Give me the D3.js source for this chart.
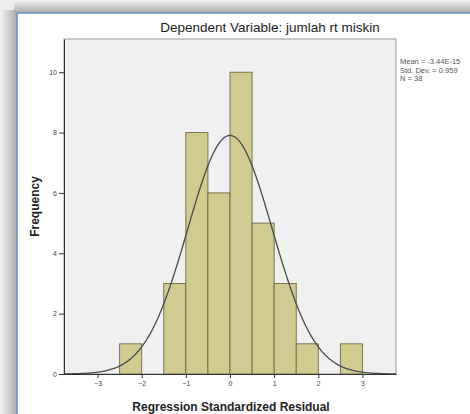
<!DOCTYPE html>
<html>
<head>
<meta charset="utf-8">
<style>
body{margin:0;background:#fff;}
svg{display:block;font-family:"Liberation Sans",Arial,sans-serif;}
</style>
</head>
<body>
<svg id="svg"></svg>
<script src="https://cdnjs.cloudflare.com/ajax/libs/d3/7.8.5/d3.min.js"></script>
<script>
// histogram bins (lower edge) and counts, bin width 0.5
var binStarts = [-2.5, -2, -1.5, -1, -0.5, 0, 0.5, 1, 1.5, 2, 2.5]
var counts    = [1, 0, 3, 8, 6, 10, 5, 3, 1, 0, 1]
var xTicks = [-3, -2, -1, 0, 1, 2, 3]
var yTicks = [0, 2, 4, 6, 8, 10]
var stats = ["Mean = -3.44E-15", "Std. Dev. = 0.959", "N = 38"]
var mean = 0, sd = 0.959, n = 38, binW = 0.5

var W = 470, H = 414
var plot = {left: 64, right: 396, top: 39, bottom: 374}

var svg = d3.select('#svg').attr('width', W).attr('height', H)
var defs = svg.append('defs')
var gl = defs.append('linearGradient').attr('id','shL').attr('x1',0).attr('x2',1).attr('y1',0).attr('y2',0)
gl.append('stop').attr('offset',0).attr('stop-color','#f4f4f4')
gl.append('stop').attr('offset',1).attr('stop-color','#a9a9a9')
var gt = defs.append('linearGradient').attr('id','shT').attr('x1',0).attr('x2',0).attr('y1',0).attr('y2',1)
gt.append('stop').attr('offset',0).attr('stop-color','#f4f4f4')
gt.append('stop').attr('offset',1).attr('stop-color','#a9a9a9')

// window shadow + blue frame
svg.append('rect').attr('x',0).attr('y',0).attr('width',W).attr('height',H).attr('fill','#ececec')
svg.append('rect').attr('x',0).attr('y',10).attr('width',17).attr('height',H).attr('fill','url(#shL)')
svg.append('rect').attr('x',14).attr('y',0).attr('width',W).attr('height',13).attr('fill','url(#shT)')
svg.append('rect').attr('x',17).attr('y',13).attr('width',W).attr('height',H).attr('fill','#fff')
svg.append('line').attr('x1',17).attr('x2',17).attr('y1',13).attr('y2',H).attr('stroke','#6a8fc8').attr('stroke-width',1.5)
svg.append('line').attr('x1',17).attr('x2',W).attr('y1',13).attr('y2',13).attr('stroke','#6a8fc8').attr('stroke-width',1.5)

var x = d3.scaleLinear().domain([-3.76, 3.76]).range([plot.left, plot.right])
var y = d3.scaleLinear().domain([0, 11.1]).range([plot.bottom, plot.top])

svg.append('rect').attr('x',plot.left).attr('y',plot.top)
  .attr('width',plot.right-plot.left).attr('height',plot.bottom-plot.top)
  .attr('fill','#f0f0f0').attr('stroke','#9a9a9a').attr('stroke-width',1)

binStarts.forEach(function(b,i){
  if (counts[i] === 0) return
  svg.append('rect').attr('class','bar')
    .attr('x', x(b)).attr('width', x(b+binW)-x(b))
    .attr('y', y(counts[i])).attr('height', y(0)-y(counts[i]))
    .attr('fill','#d2cb90').attr('stroke','#6e6844').attr('stroke-width',0.9)
})

// normal curve
var pts = d3.range(-3.76, 3.761, 0.02).map(function(v){
  var p = Math.exp(-0.5*Math.pow((v-mean)/sd,2))/(sd*Math.sqrt(2*Math.PI))
  return [v, n*binW*p]
})
svg.append('path').datum(pts)
  .attr('d', d3.line().x(function(d){return x(d[0])}).y(function(d){return y(d[1])}))
  .attr('fill','none').attr('stroke','#4a4a4a').attr('stroke-width',1.3)

var xAxis = svg.append('g').attr('transform','translate(0,'+plot.bottom+')')
  .call(d3.axisBottom(x).tickValues(xTicks).tickSize(4).tickSizeOuter(0).tickPadding(3))
var yAxis = svg.append('g').attr('transform','translate('+plot.left+',0)')
  .call(d3.axisLeft(y).tickValues(yTicks).tickSize(5).tickSizeOuter(0).tickPadding(2))
;[xAxis, yAxis].forEach(function(a){
  a.select('.domain').attr('stroke','#333')
  a.selectAll('.tick line').attr('stroke','#333')
  a.selectAll('text').attr('font-size',7).attr('fill','#444').attr('font-family','"Liberation Sans",Arial,sans-serif')
})

svg.append('text').attr('x',270).attr('y',32).attr('text-anchor','middle')
  .attr('font-size',13.5).attr('fill','#222').text('Dependent Variable: jumlah rt miskin')
svg.append('text').attr('x',231).attr('y',411).attr('text-anchor','middle')
  .attr('font-size',12).attr('font-weight','bold').attr('fill','#222').text('Regression Standardized Residual')
svg.append('text').attr('transform','translate(39,'+((plot.top+plot.bottom)/2)+') rotate(-90)')
  .attr('text-anchor','middle').attr('font-size',12).attr('font-weight','bold').attr('fill','#222').text('Frequency')

svg.selectAll('text.stat').data(stats).enter().append('text').attr('class','stat')
  .attr('x',400).attr('y',function(d,i){return 64+i*8.5})
  .attr('font-size',7.5).attr('fill','#555').text(function(d){return d})
</script>
</body>
</html>
